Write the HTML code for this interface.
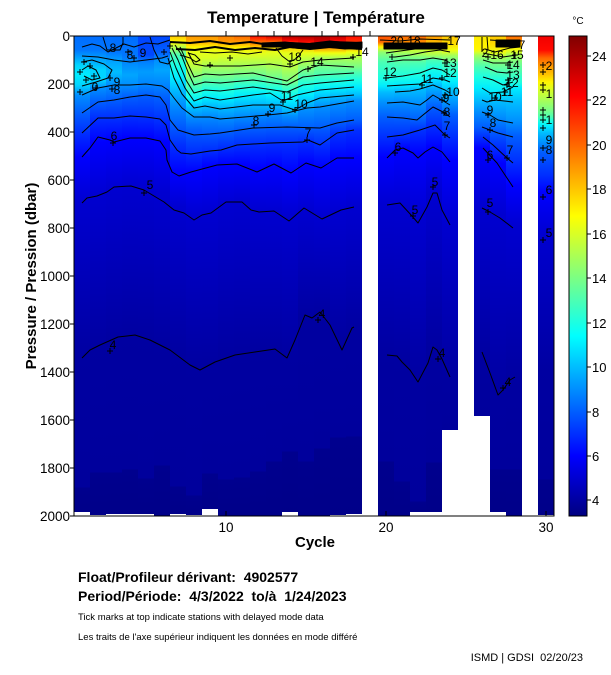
<!DOCTYPE html>
<html><head><meta charset="utf-8"><style>
html,body{margin:0;padding:0;background:#fff;}
body{width:611px;height:675px;overflow:hidden;}
svg{display:block;font-family:"Liberation Sans",Arial,sans-serif;}
</style></head><body>
<svg width="611" height="675" viewBox="0 0 611 675" xmlns="http://www.w3.org/2000/svg">
<defs>
<clipPath id="pc"><rect x="74" y="36" width="480" height="480"/></clipPath>
<linearGradient id="cb" x1="0" y1="1" x2="0" y2="0"><stop offset="0" stop-color="#000080"/><stop offset=".125" stop-color="#0000ff"/><stop offset=".375" stop-color="#00ffff"/><stop offset=".625" stop-color="#ffff00"/><stop offset=".875" stop-color="#ff0000"/><stop offset="1" stop-color="#800000"/></linearGradient>
<linearGradient id="g1" gradientUnits="userSpaceOnUse" x1="0" y1="0" x2="0" y2="1000"><stop offset=".036" stop-color="#006dff"/><stop offset=".050" stop-color="#0076ff"/><stop offset=".058" stop-color="#00a5ff"/><stop offset=".065" stop-color="#00d4ff"/><stop offset=".075" stop-color="#00ecff"/><stop offset=".085" stop-color="#00d4ff"/><stop offset=".095" stop-color="#008eff"/><stop offset=".113" stop-color="#005eff"/><stop offset=".133" stop-color="#002fff"/><stop offset=".157" stop-color="#0000ff"/><stop offset=".202" stop-color="#0000d0"/><stop offset=".280" stop-color="#0000b8"/><stop offset=".358" stop-color="#0000a1"/><stop offset=".487" stop-color="#00009c"/><stop offset=".488" stop-color="#00008e"/><stop offset=".512" stop-color="#000089"/></linearGradient>
<linearGradient id="g2" gradientUnits="userSpaceOnUse" x1="0" y1="0" x2="0" y2="1000"><stop offset=".036" stop-color="#006dff"/><stop offset=".050" stop-color="#0076ff"/><stop offset=".060" stop-color="#00a5ff"/><stop offset=".070" stop-color="#00d4ff"/><stop offset=".080" stop-color="#00d4ff"/><stop offset=".088" stop-color="#008eff"/><stop offset=".102" stop-color="#005eff"/><stop offset=".118" stop-color="#002fff"/><stop offset=".142" stop-color="#0000ff"/><stop offset=".196" stop-color="#0000d0"/><stop offset=".272" stop-color="#0000b8"/><stop offset=".348" stop-color="#0000a1"/><stop offset=".472" stop-color="#00009c"/><stop offset=".473" stop-color="#00008e"/><stop offset=".515" stop-color="#000089"/></linearGradient>
<linearGradient id="g3" gradientUnits="userSpaceOnUse" x1="0" y1="0" x2="0" y2="1000"><stop offset=".036" stop-color="#006dff"/><stop offset=".052" stop-color="#0076ff"/><stop offset=".062" stop-color="#00a5ff"/><stop offset=".072" stop-color="#00bdff"/><stop offset=".085" stop-color="#008eff"/><stop offset=".100" stop-color="#005eff"/><stop offset=".118" stop-color="#002fff"/><stop offset=".140" stop-color="#0000ff"/><stop offset=".190" stop-color="#0000d0"/><stop offset=".265" stop-color="#0000b8"/><stop offset=".340" stop-color="#0000a1"/><stop offset=".472" stop-color="#00009c"/><stop offset=".473" stop-color="#00008e"/><stop offset=".514" stop-color="#000089"/></linearGradient>
<linearGradient id="g4" gradientUnits="userSpaceOnUse" x1="0" y1="0" x2="0" y2="1000"><stop offset=".036" stop-color="#006dff"/><stop offset=".055" stop-color="#0076ff"/><stop offset=".065" stop-color="#008eff"/><stop offset=".075" stop-color="#00a5ff"/><stop offset=".085" stop-color="#008eff"/><stop offset=".097" stop-color="#005eff"/><stop offset=".116" stop-color="#002fff"/><stop offset=".138" stop-color="#0000ff"/><stop offset=".186" stop-color="#0000d0"/><stop offset=".261" stop-color="#0000b8"/><stop offset=".336" stop-color="#0000a1"/><stop offset=".469" stop-color="#00009c"/><stop offset=".470" stop-color="#00008e"/><stop offset=".514" stop-color="#000089"/></linearGradient>
<linearGradient id="g5" gradientUnits="userSpaceOnUse" x1="0" y1="0" x2="0" y2="1000"><stop offset=".036" stop-color="#0047ff"/><stop offset=".055" stop-color="#0047ff"/><stop offset=".062" stop-color="#0080ff"/><stop offset=".072" stop-color="#009cff"/><stop offset=".085" stop-color="#0084ff"/><stop offset=".095" stop-color="#005eff"/><stop offset=".117" stop-color="#002fff"/><stop offset=".138" stop-color="#0000ff"/><stop offset=".187" stop-color="#0000d0"/><stop offset=".262" stop-color="#0000b8"/><stop offset=".338" stop-color="#0000a1"/><stop offset=".478" stop-color="#00009c"/><stop offset=".479" stop-color="#00008e"/><stop offset=".514" stop-color="#000089"/></linearGradient>
<linearGradient id="g6" gradientUnits="userSpaceOnUse" x1="0" y1="0" x2="0" y2="1000"><stop offset=".036" stop-color="#0047ff"/><stop offset=".052" stop-color="#005eff"/><stop offset=".060" stop-color="#008eff"/><stop offset=".070" stop-color="#00a5ff"/><stop offset=".085" stop-color="#0084ff"/><stop offset=".098" stop-color="#005eff"/><stop offset=".120" stop-color="#002fff"/><stop offset=".142" stop-color="#0000ff"/><stop offset=".193" stop-color="#0000d0"/><stop offset=".269" stop-color="#0000b8"/><stop offset=".345" stop-color="#0000a1"/><stop offset=".465" stop-color="#00009c"/><stop offset=".466" stop-color="#00008e"/><stop offset=".516" stop-color="#000089"/></linearGradient>
<linearGradient id="g7" gradientUnits="userSpaceOnUse" x1="0" y1="0" x2="0" y2="1000"><stop offset=".036" stop-color="#ffc700"/><stop offset=".042" stop-color="#fff500"/><stop offset=".048" stop-color="#aaff55"/><stop offset=".055" stop-color="#4bffb4"/><stop offset=".065" stop-color="#1cffe3"/><stop offset=".078" stop-color="#00ecff"/><stop offset=".090" stop-color="#00bdff"/><stop offset=".105" stop-color="#008eff"/><stop offset=".125" stop-color="#005eff"/><stop offset=".145" stop-color="#002fff"/><stop offset=".172" stop-color="#0000ff"/><stop offset=".207" stop-color="#0000d0"/><stop offset=".281" stop-color="#0000b8"/><stop offset=".355" stop-color="#0000a1"/><stop offset=".486" stop-color="#00009c"/><stop offset=".487" stop-color="#00008e"/><stop offset=".514" stop-color="#000089"/></linearGradient>
<linearGradient id="g8" gradientUnits="userSpaceOnUse" x1="0" y1="0" x2="0" y2="1000"><stop offset=".036" stop-color="#ff9700"/><stop offset=".042" stop-color="#ffaf00"/><stop offset=".047" stop-color="#fff500"/><stop offset=".052" stop-color="#e7ff18"/><stop offset=".060" stop-color="#d9ff26"/><stop offset=".070" stop-color="#aaff55"/><stop offset=".078" stop-color="#7bff85"/><stop offset=".086" stop-color="#4bffb4"/><stop offset=".094" stop-color="#1cffe3"/><stop offset=".101" stop-color="#00ecff"/><stop offset=".108" stop-color="#00bdff"/><stop offset=".117" stop-color="#008eff"/><stop offset=".130" stop-color="#005eff"/><stop offset=".152" stop-color="#002fff"/><stop offset=".172" stop-color="#0000ff"/><stop offset=".215" stop-color="#0000d0"/><stop offset=".290" stop-color="#0000b8"/><stop offset=".366" stop-color="#0000a1"/><stop offset=".495" stop-color="#00009c"/><stop offset=".496" stop-color="#00008e"/><stop offset=".515" stop-color="#000089"/></linearGradient>
<linearGradient id="g9" gradientUnits="userSpaceOnUse" x1="0" y1="0" x2="0" y2="1000"><stop offset=".036" stop-color="#ff9700"/><stop offset=".042" stop-color="#ffaf00"/><stop offset=".047" stop-color="#fff500"/><stop offset=".052" stop-color="#e7ff18"/><stop offset=".058" stop-color="#d9ff26"/><stop offset=".066" stop-color="#aaff55"/><stop offset=".075" stop-color="#7bff85"/><stop offset=".083" stop-color="#4bffb4"/><stop offset=".090" stop-color="#1cffe3"/><stop offset=".098" stop-color="#00ecff"/><stop offset=".106" stop-color="#00bdff"/><stop offset=".116" stop-color="#008eff"/><stop offset=".132" stop-color="#005eff"/><stop offset=".150" stop-color="#002fff"/><stop offset=".166" stop-color="#0000ff"/><stop offset=".214" stop-color="#0000d0"/><stop offset=".289" stop-color="#0000b8"/><stop offset=".364" stop-color="#0000a1"/><stop offset=".473" stop-color="#00009c"/><stop offset=".474" stop-color="#00008e"/><stop offset=".509" stop-color="#000089"/></linearGradient>
<linearGradient id="g10" gradientUnits="userSpaceOnUse" x1="0" y1="0" x2="0" y2="1000"><stop offset=".036" stop-color="#ff8000"/><stop offset=".042" stop-color="#ff9700"/><stop offset=".048" stop-color="#fff500"/><stop offset=".053" stop-color="#e7ff18"/><stop offset=".066" stop-color="#aaff55"/><stop offset=".075" stop-color="#7bff85"/><stop offset=".083" stop-color="#4bffb4"/><stop offset=".091" stop-color="#1cffe3"/><stop offset=".099" stop-color="#00ecff"/><stop offset=".107" stop-color="#00bdff"/><stop offset=".118" stop-color="#008eff"/><stop offset=".132" stop-color="#005eff"/><stop offset=".147" stop-color="#002fff"/><stop offset=".164" stop-color="#0000ff"/><stop offset=".205" stop-color="#0000d0"/><stop offset=".280" stop-color="#0000b8"/><stop offset=".355" stop-color="#0000a1"/><stop offset=".479" stop-color="#00009c"/><stop offset=".480" stop-color="#00008e"/><stop offset=".516" stop-color="#000089"/></linearGradient>
<linearGradient id="g11" gradientUnits="userSpaceOnUse" x1="0" y1="0" x2="0" y2="1000"><stop offset=".036" stop-color="#ff6800"/><stop offset=".042" stop-color="#ff9700"/><stop offset=".048" stop-color="#fff500"/><stop offset=".053" stop-color="#e7ff18"/><stop offset=".065" stop-color="#aaff55"/><stop offset=".074" stop-color="#7bff85"/><stop offset=".081" stop-color="#4bffb4"/><stop offset=".088" stop-color="#1cffe3"/><stop offset=".096" stop-color="#00ecff"/><stop offset=".105" stop-color="#00bdff"/><stop offset=".116" stop-color="#008eff"/><stop offset=".129" stop-color="#005eff"/><stop offset=".145" stop-color="#002fff"/><stop offset=".164" stop-color="#0000ff"/><stop offset=".202" stop-color="#0000d0"/><stop offset=".277" stop-color="#0000b8"/><stop offset=".352" stop-color="#0000a1"/><stop offset=".477" stop-color="#00009c"/><stop offset=".478" stop-color="#00008e"/><stop offset=".516" stop-color="#000089"/></linearGradient>
<linearGradient id="g12" gradientUnits="userSpaceOnUse" x1="0" y1="0" x2="0" y2="1000"><stop offset=".036" stop-color="#ff0900"/><stop offset=".042" stop-color="#ff6800"/><stop offset=".048" stop-color="#ffde00"/><stop offset=".053" stop-color="#e7ff18"/><stop offset=".064" stop-color="#aaff55"/><stop offset=".073" stop-color="#7bff85"/><stop offset=".080" stop-color="#4bffb4"/><stop offset=".087" stop-color="#1cffe3"/><stop offset=".094" stop-color="#00ecff"/><stop offset=".104" stop-color="#00bdff"/><stop offset=".114" stop-color="#008eff"/><stop offset=".128" stop-color="#005eff"/><stop offset=".144" stop-color="#002fff"/><stop offset=".168" stop-color="#0000ff"/><stop offset=".210" stop-color="#0000d0"/><stop offset=".280" stop-color="#0000b8"/><stop offset=".350" stop-color="#0000a1"/><stop offset=".471" stop-color="#00009c"/><stop offset=".472" stop-color="#00008e"/><stop offset=".516" stop-color="#000089"/></linearGradient>
<linearGradient id="g13" gradientUnits="userSpaceOnUse" x1="0" y1="0" x2="0" y2="1000"><stop offset=".036" stop-color="#d90000"/><stop offset=".040" stop-color="#ff3900"/><stop offset=".046" stop-color="#ffc700"/><stop offset=".052" stop-color="#e7ff18"/><stop offset=".066" stop-color="#aaff55"/><stop offset=".076" stop-color="#7bff85"/><stop offset=".082" stop-color="#4bffb4"/><stop offset=".089" stop-color="#1cffe3"/><stop offset=".096" stop-color="#00ecff"/><stop offset=".105" stop-color="#00bdff"/><stop offset=".113" stop-color="#008eff"/><stop offset=".127" stop-color="#005eff"/><stop offset=".143" stop-color="#002fff"/><stop offset=".166" stop-color="#0000ff"/><stop offset=".211" stop-color="#0000d0"/><stop offset=".280" stop-color="#0000b8"/><stop offset=".350" stop-color="#0000a1"/><stop offset=".461" stop-color="#00009c"/><stop offset=".462" stop-color="#00008e"/><stop offset=".516" stop-color="#000089"/></linearGradient>
<linearGradient id="g14" gradientUnits="userSpaceOnUse" x1="0" y1="0" x2="0" y2="1000"><stop offset=".036" stop-color="#aa0000"/><stop offset=".041" stop-color="#ff0900"/><stop offset=".047" stop-color="#ffc700"/><stop offset=".053" stop-color="#e7ff18"/><stop offset=".070" stop-color="#aaff55"/><stop offset=".081" stop-color="#7bff85"/><stop offset=".086" stop-color="#4bffb4"/><stop offset=".093" stop-color="#1cffe3"/><stop offset=".101" stop-color="#00ecff"/><stop offset=".110" stop-color="#00bdff"/><stop offset=".116" stop-color="#008eff"/><stop offset=".127" stop-color="#005eff"/><stop offset=".143" stop-color="#002fff"/><stop offset=".172" stop-color="#0000ff"/><stop offset=".215" stop-color="#0000d0"/><stop offset=".285" stop-color="#0000b8"/><stop offset=".356" stop-color="#0000a1"/><stop offset=".451" stop-color="#00009c"/><stop offset=".452" stop-color="#00008e"/><stop offset=".512" stop-color="#000089"/></linearGradient>
<linearGradient id="g15" gradientUnits="userSpaceOnUse" x1="0" y1="0" x2="0" y2="1000"><stop offset=".036" stop-color="#aa0000"/><stop offset=".042" stop-color="#ff0900"/><stop offset=".048" stop-color="#ffc700"/><stop offset=".053" stop-color="#e7ff18"/><stop offset=".062" stop-color="#aaff55"/><stop offset=".070" stop-color="#7bff85"/><stop offset=".077" stop-color="#4bffb4"/><stop offset=".085" stop-color="#1cffe3"/><stop offset=".095" stop-color="#00ecff"/><stop offset=".103" stop-color="#00bdff"/><stop offset=".110" stop-color="#008eff"/><stop offset=".128" stop-color="#005eff"/><stop offset=".141" stop-color="#002fff"/><stop offset=".164" stop-color="#0000ff"/><stop offset=".211" stop-color="#0000d0"/><stop offset=".265" stop-color="#0000b8"/><stop offset=".318" stop-color="#0000a1"/><stop offset=".461" stop-color="#00009c"/><stop offset=".462" stop-color="#00008e"/><stop offset=".516" stop-color="#000089"/></linearGradient>
<linearGradient id="g16" gradientUnits="userSpaceOnUse" x1="0" y1="0" x2="0" y2="1000"><stop offset=".036" stop-color="#aa0000"/><stop offset=".042" stop-color="#d90000"/><stop offset=".048" stop-color="#ff9700"/><stop offset=".053" stop-color="#f1ff0e"/><stop offset=".058" stop-color="#aaff55"/><stop offset=".065" stop-color="#7bff85"/><stop offset=".075" stop-color="#4bffb4"/><stop offset=".083" stop-color="#1cffe3"/><stop offset=".090" stop-color="#00ecff"/><stop offset=".098" stop-color="#00bdff"/><stop offset=".107" stop-color="#008eff"/><stop offset=".127" stop-color="#005eff"/><stop offset=".145" stop-color="#002fff"/><stop offset=".167" stop-color="#0000ff"/><stop offset=".217" stop-color="#0000d0"/><stop offset=".266" stop-color="#0000b8"/><stop offset=".315" stop-color="#0000a1"/><stop offset=".448" stop-color="#00009c"/><stop offset=".449" stop-color="#00008e"/><stop offset=".516" stop-color="#000089"/></linearGradient>
<linearGradient id="g17" gradientUnits="userSpaceOnUse" x1="0" y1="0" x2="0" y2="1000"><stop offset=".036" stop-color="#c20000"/><stop offset=".042" stop-color="#ff0900"/><stop offset=".048" stop-color="#ff9700"/><stop offset=".053" stop-color="#f1ff0e"/><stop offset=".058" stop-color="#aaff55"/><stop offset=".066" stop-color="#7bff85"/><stop offset=".074" stop-color="#4bffb4"/><stop offset=".081" stop-color="#1cffe3"/><stop offset=".088" stop-color="#00ecff"/><stop offset=".096" stop-color="#00bdff"/><stop offset=".104" stop-color="#008eff"/><stop offset=".122" stop-color="#005eff"/><stop offset=".134" stop-color="#002fff"/><stop offset=".159" stop-color="#0000ff"/><stop offset=".212" stop-color="#0000d0"/><stop offset=".275" stop-color="#0000b8"/><stop offset=".338" stop-color="#0000a1"/><stop offset=".437" stop-color="#00009c"/><stop offset=".438" stop-color="#00008e"/><stop offset=".515" stop-color="#000089"/></linearGradient>
<linearGradient id="g18" gradientUnits="userSpaceOnUse" x1="0" y1="0" x2="0" y2="1000"><stop offset=".036" stop-color="#ff0900"/><stop offset=".043" stop-color="#ff3900"/><stop offset=".047" stop-color="#ff9700"/><stop offset=".052" stop-color="#f1ff0e"/><stop offset=".058" stop-color="#aaff55"/><stop offset=".067" stop-color="#7bff85"/><stop offset=".073" stop-color="#4bffb4"/><stop offset=".080" stop-color="#1cffe3"/><stop offset=".087" stop-color="#00ecff"/><stop offset=".095" stop-color="#00bdff"/><stop offset=".101" stop-color="#008eff"/><stop offset=".120" stop-color="#005eff"/><stop offset=".130" stop-color="#002fff"/><stop offset=".158" stop-color="#0000ff"/><stop offset=".207" stop-color="#0000d0"/><stop offset=".268" stop-color="#0000b8"/><stop offset=".330" stop-color="#0000a1"/><stop offset=".436" stop-color="#00009c"/><stop offset=".437" stop-color="#00008e"/><stop offset=".514" stop-color="#000089"/></linearGradient>
<linearGradient id="g20" gradientUnits="userSpaceOnUse" x1="0" y1="0" x2="0" y2="1000"><stop offset=".036" stop-color="#ff5000"/><stop offset=".042" stop-color="#ff6800"/><stop offset=".047" stop-color="#fff500"/><stop offset=".052" stop-color="#92ff6d"/><stop offset=".055" stop-color="#7bff85"/><stop offset=".062" stop-color="#4bffb4"/><stop offset=".078" stop-color="#1cffe3"/><stop offset=".086" stop-color="#00ecff"/><stop offset=".092" stop-color="#00bdff"/><stop offset=".103" stop-color="#008eff"/><stop offset=".117" stop-color="#005eff"/><stop offset=".137" stop-color="#002fff"/><stop offset=".157" stop-color="#0000ff"/><stop offset=".205" stop-color="#0000d0"/><stop offset=".280" stop-color="#0000b8"/><stop offset=".355" stop-color="#0000a1"/><stop offset=".461" stop-color="#00009c"/><stop offset=".462" stop-color="#00008e"/><stop offset=".516" stop-color="#000089"/></linearGradient>
<linearGradient id="g21" gradientUnits="userSpaceOnUse" x1="0" y1="0" x2="0" y2="1000"><stop offset=".036" stop-color="#ff6800"/><stop offset=".044" stop-color="#ff9700"/><stop offset=".048" stop-color="#d9ff26"/><stop offset=".052" stop-color="#aaff55"/><stop offset=".057" stop-color="#7bff85"/><stop offset=".064" stop-color="#4bffb4"/><stop offset=".077" stop-color="#1cffe3"/><stop offset=".085" stop-color="#00ecff"/><stop offset=".091" stop-color="#00bdff"/><stop offset=".102" stop-color="#008eff"/><stop offset=".118" stop-color="#005eff"/><stop offset=".136" stop-color="#002fff"/><stop offset=".149" stop-color="#0000ff"/><stop offset=".206" stop-color="#0000d0"/><stop offset=".283" stop-color="#0000b8"/><stop offset=".360" stop-color="#0000a1"/><stop offset=".481" stop-color="#00009c"/><stop offset=".482" stop-color="#00008e"/><stop offset=".516" stop-color="#000089"/></linearGradient>
<linearGradient id="g22" gradientUnits="userSpaceOnUse" x1="0" y1="0" x2="0" y2="1000"><stop offset=".036" stop-color="#ff6800"/><stop offset=".044" stop-color="#ff9700"/><stop offset=".048" stop-color="#d9ff26"/><stop offset=".054" stop-color="#aaff55"/><stop offset=".058" stop-color="#7bff85"/><stop offset=".063" stop-color="#4bffb4"/><stop offset=".074" stop-color="#1cffe3"/><stop offset=".084" stop-color="#00ecff"/><stop offset=".089" stop-color="#00bdff"/><stop offset=".104" stop-color="#008eff"/><stop offset=".120" stop-color="#005eff"/><stop offset=".131" stop-color="#002fff"/><stop offset=".153" stop-color="#0000ff"/><stop offset=".218" stop-color="#0000d0"/><stop offset=".299" stop-color="#0000b8"/><stop offset=".380" stop-color="#0000a1"/><stop offset=".501" stop-color="#00009c"/><stop offset=".502" stop-color="#00008e"/><stop offset=".512" stop-color="#000089"/></linearGradient>
<linearGradient id="g23" gradientUnits="userSpaceOnUse" x1="0" y1="0" x2="0" y2="1000"><stop offset=".036" stop-color="#ff9700"/><stop offset=".044" stop-color="#ffc700"/><stop offset=".050" stop-color="#d9ff26"/><stop offset=".055" stop-color="#aaff55"/><stop offset=".058" stop-color="#7bff85"/><stop offset=".060" stop-color="#4bffb4"/><stop offset=".068" stop-color="#1cffe3"/><stop offset=".078" stop-color="#00ecff"/><stop offset=".085" stop-color="#00bdff"/><stop offset=".095" stop-color="#008eff"/><stop offset=".107" stop-color="#005eff"/><stop offset=".125" stop-color="#002fff"/><stop offset=".147" stop-color="#0000ff"/><stop offset=".195" stop-color="#0000d0"/><stop offset=".272" stop-color="#0000b8"/><stop offset=".348" stop-color="#0000a1"/><stop offset=".462" stop-color="#00009c"/><stop offset=".463" stop-color="#00008e"/><stop offset=".512" stop-color="#000089"/></linearGradient>
<linearGradient id="g24" gradientUnits="userSpaceOnUse" x1="0" y1="0" x2="0" y2="1000"><stop offset=".036" stop-color="#ffc700"/><stop offset=".044" stop-color="#ffde00"/><stop offset=".050" stop-color="#f1ff0e"/><stop offset=".052" stop-color="#d9ff26"/><stop offset=".055" stop-color="#aaff55"/><stop offset=".060" stop-color="#7bff85"/><stop offset=".063" stop-color="#4bffb4"/><stop offset=".074" stop-color="#1cffe3"/><stop offset=".082" stop-color="#00ecff"/><stop offset=".092" stop-color="#00bdff"/><stop offset=".104" stop-color="#008eff"/><stop offset=".115" stop-color="#005eff"/><stop offset=".136" stop-color="#002fff"/><stop offset=".160" stop-color="#0000ff"/><stop offset=".222" stop-color="#0000d0"/><stop offset=".299" stop-color="#0000b8"/><stop offset=".375" stop-color="#0000a1"/><stop offset=".430" stop-color="#00009c"/></linearGradient>
<linearGradient id="g26" gradientUnits="userSpaceOnUse" x1="0" y1="0" x2="0" y2="1000"><stop offset=".036" stop-color="#ffec00"/><stop offset=".049" stop-color="#fff500"/><stop offset=".052" stop-color="#d9ff26"/><stop offset=".055" stop-color="#aaff55"/><stop offset=".060" stop-color="#7bff85"/><stop offset=".067" stop-color="#4bffb4"/><stop offset=".077" stop-color="#1cffe3"/><stop offset=".088" stop-color="#00ecff"/><stop offset=".100" stop-color="#00bdff"/><stop offset=".112" stop-color="#008eff"/><stop offset=".127" stop-color="#005eff"/><stop offset=".137" stop-color="#002fff"/><stop offset=".148" stop-color="#0000ff"/><stop offset=".208" stop-color="#0000d0"/><stop offset=".282" stop-color="#0000b8"/><stop offset=".355" stop-color="#0000a1"/><stop offset=".416" stop-color="#00009c"/></linearGradient>
<linearGradient id="g27" gradientUnits="userSpaceOnUse" x1="0" y1="0" x2="0" y2="1000"><stop offset=".036" stop-color="#ffc700"/><stop offset=".045" stop-color="#ffde00"/><stop offset=".052" stop-color="#f1ff0e"/><stop offset=".057" stop-color="#aaff55"/><stop offset=".063" stop-color="#7bff85"/><stop offset=".072" stop-color="#4bffb4"/><stop offset=".080" stop-color="#1cffe3"/><stop offset=".093" stop-color="#00ecff"/><stop offset=".101" stop-color="#00bdff"/><stop offset=".117" stop-color="#008eff"/><stop offset=".131" stop-color="#005eff"/><stop offset=".147" stop-color="#002fff"/><stop offset=".163" stop-color="#0000ff"/><stop offset=".215" stop-color="#0000d0"/><stop offset=".303" stop-color="#0000b8"/><stop offset=".392" stop-color="#0000a1"/><stop offset=".469" stop-color="#00009c"/><stop offset=".470" stop-color="#00008e"/><stop offset=".512" stop-color="#000089"/></linearGradient>
<linearGradient id="g28" gradientUnits="userSpaceOnUse" x1="0" y1="0" x2="0" y2="1000"><stop offset=".036" stop-color="#ff6800"/><stop offset=".042" stop-color="#ff9700"/><stop offset=".048" stop-color="#fff500"/><stop offset=".052" stop-color="#d9ff26"/><stop offset=".055" stop-color="#aaff55"/><stop offset=".062" stop-color="#7bff85"/><stop offset=".072" stop-color="#4bffb4"/><stop offset=".083" stop-color="#1cffe3"/><stop offset=".088" stop-color="#00ecff"/><stop offset=".102" stop-color="#00bdff"/><stop offset=".122" stop-color="#008eff"/><stop offset=".136" stop-color="#005eff"/><stop offset=".162" stop-color="#002fff"/><stop offset=".185" stop-color="#0000ff"/><stop offset=".226" stop-color="#0000d0"/><stop offset=".302" stop-color="#0000b8"/><stop offset=".378" stop-color="#0000a1"/><stop offset=".469" stop-color="#00009c"/><stop offset=".470" stop-color="#00008e"/><stop offset=".516" stop-color="#000089"/></linearGradient>
<linearGradient id="g30" gradientUnits="userSpaceOnUse" x1="0" y1="0" x2="0" y2="1000"><stop offset=".036" stop-color="#f10000"/><stop offset=".050" stop-color="#ff0900"/><stop offset=".058" stop-color="#ff6800"/><stop offset=".066" stop-color="#ff9700"/><stop offset=".075" stop-color="#ffc700"/><stop offset=".082" stop-color="#fff500"/><stop offset=".090" stop-color="#d9ff26"/><stop offset=".100" stop-color="#aaff55"/><stop offset=".110" stop-color="#7bff85"/><stop offset=".117" stop-color="#4bffb4"/><stop offset=".121" stop-color="#1cffe3"/><stop offset=".126" stop-color="#00ecff"/><stop offset=".133" stop-color="#00bdff"/><stop offset=".143" stop-color="#008eff"/><stop offset=".152" stop-color="#005eff"/><stop offset=".175" stop-color="#002fff"/><stop offset=".192" stop-color="#0000ff"/><stop offset=".235" stop-color="#0000d0"/><stop offset=".300" stop-color="#0000b8"/><stop offset=".370" stop-color="#0000a1"/><stop offset=".479" stop-color="#00009c"/><stop offset=".480" stop-color="#00008e"/><stop offset=".515" stop-color="#000089"/></linearGradient>
</defs>

<rect width="611" height="675" fill="#fff"/>

<!-- Title -->
<text x="316" y="23" text-anchor="middle" font-size="17" font-weight="bold">Temperature | Température</text>
<text x="578" y="24" text-anchor="middle" font-size="10">°C</text>

<!-- Heatmap columns -->
<g shape-rendering="crispEdges">
<rect x="74" y="36" width="16" height="476" fill="url(#g1)"/>
<rect x="90" y="36" width="16" height="479" fill="url(#g2)"/>
<rect x="106" y="36" width="16" height="478" fill="url(#g3)"/>
<rect x="122" y="36" width="16" height="478" fill="url(#g4)"/>
<rect x="138" y="36" width="16" height="478" fill="url(#g5)"/>
<rect x="154" y="36" width="16" height="480" fill="url(#g6)"/>
<rect x="170" y="36" width="16" height="478" fill="url(#g7)"/>
<rect x="186" y="36" width="16" height="479" fill="url(#g8)"/>
<rect x="202" y="36" width="16" height="473" fill="url(#g9)"/>
<rect x="218" y="36" width="16" height="480" fill="url(#g10)"/>
<rect x="234" y="36" width="16" height="480" fill="url(#g11)"/>
<rect x="250" y="36" width="16" height="480" fill="url(#g12)"/>
<rect x="266" y="36" width="16" height="480" fill="url(#g13)"/>
<rect x="282" y="36" width="16" height="476" fill="url(#g14)"/>
<rect x="298" y="36" width="16" height="480" fill="url(#g15)"/>
<rect x="314" y="36" width="16" height="480" fill="url(#g16)"/>
<rect x="330" y="36" width="16" height="479" fill="url(#g17)"/>
<rect x="346" y="36" width="16" height="478" fill="url(#g18)"/>
<rect x="378" y="36" width="16" height="480" fill="url(#g20)"/>
<rect x="394" y="36" width="16" height="480" fill="url(#g21)"/>
<rect x="410" y="36" width="16" height="476" fill="url(#g22)"/>
<rect x="426" y="36" width="16" height="476" fill="url(#g23)"/>
<rect x="442" y="36" width="16" height="394" fill="url(#g24)"/>
<rect x="474" y="36" width="16" height="380" fill="url(#g26)"/>
<rect x="490" y="36" width="16" height="476" fill="url(#g27)"/>
<rect x="506" y="36" width="16" height="480" fill="url(#g28)"/>
<rect x="538" y="36" width="16" height="479" fill="url(#g30)"/>
</g>

<!-- Contours -->
<g clip-path="url(#pc)" fill="none" stroke="#000" stroke-width="1" stroke-linejoin="round">
<polyline points="82,358 90,350 100,345 118,337 135,335 150,340 170,350 190,365 200,370 215,362 235,355 255,352 275,349 287,358 295,340 305,315 312,318 320,312 330,325 342,350 352,328 354,327"/>
<polyline points="82,203 87,198 97,196 107,192 114,187 131,186 144,190 154,196 164,202 174,210 184,213 194,220 202,215 211,213 226,202 242,202 251,210 259,212 274,211 289,221 304,208 322,219 341,210 354,207"/>
<polyline points="82,157 90,148 98,137 110,140 114,142 130,138 146,138 160,141 166,150 167,160 172,172 179,176 191,172 217,165 237,164 257,172 274,164 291,173 306,163 321,168 337,158 354,158"/>
<polyline points="82,133 98,118 114,118 130,116 146,117 160,119 166,125 170,140 177,150 181,153 191,154 210,151 221,150 237,145 270,143 303,142 308,140 320,145 337,133 354,130"/>
<polyline points="82,113 98,102 114,100 130,97 146,95 160,97 166,105 170,120 178,130 194,135 210,134 220,133 253,128 287,127 320,128 337,123 354,120"/>
<polyline points="82,95 98,88 114,85 130,85 146,84 162,86 168,90 174,98 182,108 194,117 210,117 220,119 268,115 287,113 307,108 320,107 354,101"/>
<polyline points="82,56 98,57 114,60 130,62 146,60 162,58 168,56"/>
<polyline points="82,62 92,60 104,64 112,70 108,78 96,82 82,86"/>
<polyline points="168,58 174,78 182,94 194,108 205,106 220,109 253,105 280,105 295,110 307,103 320,98 354,95"/>
<polyline points="170,52 176,68 185,88 194,101 205,97 220,100 253,95 270,93 283,101 297,95 320,90 354,87"/>
<polyline points="172,48 178,60 186,80 194,93 205,90 220,91 253,87 287,92 303,85 320,83 354,80"/>
<polyline points="175,45 181,54 188,72 194,85 205,82 220,83 253,80 287,85 303,77 320,75 354,73"/>
<polyline points="180,47 186,60 194,77 205,74 220,75 253,73 287,81 303,70 320,65 354,67"/>
<polyline points="188,52 194,64 205,66 240,66 270,64 290,67 303,62 320,60 354,58"/>
<polyline points="82,47 92,44 100,46 108,52 116,48 124,44 134,47 146,43 158,44 170,40"/>
<polyline points="103,37 107,50 120,50 123,43 123,37"/>
<polyline points="150,37 154,50 160,62 168,64 172,60"/>
<polyline points="82,70 88,66 96,70 100,78 92,80 84,76"/>
<polyline points="180,55 190,58 196,62 200,60 195,55 188,53"/>
<polyline points="276,48 282,56 290,62 297,58 303,50"/>
<polyline points="200,52 215,53 232,52 248,54 262,52"/>
<polyline stroke-width="2" points="170,42 190,43 210,41 230,44 250,42 270,45 290,43 310,44 330,42 362,43"/>
<polyline stroke-width="2" points="176,49 195,50 215,47 235,50 255,48 275,50 290,47 310,49 330,47 362,49"/>
<polygon fill="#000" points="262,43 285,42 305,44 330,41 350,43 362,42 362,48 345,49 325,47 305,49 285,47 262,47"/>

<polyline points="387,355 397,356 402,362 410,370 418,382 428,363 433,347 437,350 442,359 450,377"/>
<polyline points="387,205 400,203 412,216 418,223 427,207 433,193 437,193 442,210 450,225"/>
<polyline points="387,158 395,150 403,148 413,153 418,158 425,152 433,147 442,152 450,162"/>
<polyline points="387,137 403,135 420,130 435,125 445,135 450,138"/>
<polyline points="387,117 403,118 417,120 423,115 433,107 445,113 450,117"/>
<polyline points="387,103 403,102 420,105 427,100 433,95 445,102 450,105"/>
<polyline points="395,92 410,91 420,89 433,85 445,90 450,93"/>
<polyline points="387,86 403,85 420,84 433,78 445,80 450,82"/>
<polyline points="386,78 403,76 420,73 433,68 442,70 450,75"/>
<polyline points="387,62 403,60 420,60 433,58 445,60 450,63"/>
<polyline points="395,57 410,55 425,52 440,50 450,52"/>
<polyline points="380,40 400,41 420,39 450,40"/>
<polyline points="386,53 400,51 415,49"/>
<polygon fill="#000" points="384,43 447,43 447,49 384,49"/>

<polyline points="482,352 490,373 498,395 503,390 510,380 515,377"/>
<polyline points="482,208 490,212 500,218 513,228"/>
<polyline points="483,148 497,163 513,187"/>
<polyline points="483,137 493,145 507,158 513,163"/>
<polyline points="482,127 490,130 498,133 513,137"/>
<polyline points="482,112 490,115 498,120 513,123"/>
<polyline points="482,100 487,102 495,100 513,102"/>
<polyline points="482,88 490,93 503,92 513,87"/>
<polyline points="483,77 493,80 503,85 513,82"/>
<polyline points="485,67 497,72 507,73 513,72"/>
<polyline points="483,60 493,63 507,63 513,62"/>
<polyline points="483,53 503,57 517,55"/>
<polyline points="485,49 495,52 510,48 520,47"/>
<polyline points="482,37 482,52"/>
<polyline points="487,37 488,50"/>
<polyline points="490,40 520,42"/>
<polygon fill="#000" points="496,40 520,40 520,47 496,47"/>
</g>

<!-- plus markers -->
<path clip-path="url(#pc)" fill="none" stroke="#000" stroke-width="1" d="
M110,143h6M113,140v6 M141,193h6M144,190v6 M107,351h6M110,348v6 M315,320h6M318,317v6
M287,64h6M290,61v6 M305,69h6M308,66v6 M280,102h6M283,99v6 M292,110h6M295,107v6
M265,114h6M268,111v6 M251,125h6M254,122v6 M304,140h6M307,137v6 M350,57h6M353,54v6
M81,62h6M84,59v6 M87,66h6M90,63v6 M77,72h6M80,69v6 M83,80h6M86,77v6 M91,76h6M94,73v6
M107,78h6M110,75v6 M109,89h6M112,86v6 M93,88h6M96,85v6 M77,92h6M80,89v6 M131,58h6M134,55v6
M125,52h6M128,49v6 M161,52h6M164,49v6 M167,46h6M170,43v6 M207,65h6M210,62v6 M227,58h6M230,55v6
M383,78h6M386,75v6 M419,85h6M422,82v6 M442,63h6M445,60v6 M439,78h6M442,75v6 M442,95h6M445,92v6
M439,100h6M442,97v6 M441,113h6M444,110v6 M442,135h6M445,132v6 M392,153h6M395,150v6
M430,187h6M433,184v6 M410,216h6M413,213v6 M435,359h6M438,356v6 M389,57h6M392,54v6
M505,65h6M508,62v6 M505,80h6M508,77v6 M504,85h6M507,82v6 M502,92h6M505,89v6 M492,98h6M495,95v6
M485,115h6M488,112v6 M487,130h6M490,127v6 M504,158h6M507,155v6 M485,160h6M488,157v6
M485,212h6M488,209v6 M500,388h6M503,385v6 M485,57h6M488,54v6 M512,55h6M515,52v6
M540,65h6M543,62v6 M540,72h6M543,69v6 M540,85h6M543,82v6 M540,90h6M543,87v6 M540,110h6M543,107v6
M540,115h6M543,112v6 M540,120h6M543,117v6 M540,128h6M543,125v6 M540,148h6M543,145v6
M540,160h6M543,157v6 M540,197h6M543,194v6 M540,240h6M543,237v6"/>

<!-- contour labels -->
<g clip-path="url(#pc)" font-size="12" text-anchor="middle" fill="#000">
<text x="113" y="52">8</text><text x="130" y="59">8</text><text x="143" y="57">9</text>
<text x="117" y="86">9</text><text x="117" y="94">8</text><text x="95" y="91">0</text>
<text x="114" y="140">6</text><text x="150" y="189">5</text><text x="113" y="349">4</text><text x="322" y="318">4</text>
<text x="295" y="61">18</text><text x="317" y="66">14</text><text x="362" y="56">14</text>
<text x="287" y="100">11</text><text x="301" y="108">10</text><text x="272" y="112">9</text>
<text x="256" y="125">8</text><text x="308" y="137">7</text>
<text x="390" y="76">12</text><text x="427" y="83">11</text><text x="450" y="67">13</text><text x="450" y="77">12</text>
<text x="453" y="96">10</text><text x="446" y="102">9</text><text x="447" y="116">8</text><text x="447" y="130">7</text>
<text x="398" y="151">6</text><text x="435" y="186">5</text><text x="415" y="214">5</text><text x="442" y="357">4</text>
<text x="397" y="45">20</text><text x="414" y="45">18</text><text x="454" y="45">17</text>
<text x="497" y="59">16</text><text x="517" y="59">15</text><text x="513" y="69">14</text><text x="513" y="79">13</text>
<text x="512" y="87">12</text><text x="507" y="96">11</text><text x="495" y="101">10</text><text x="490" y="114">9</text>
<text x="493" y="127">8</text><text x="510" y="154">7</text><text x="490" y="159">6</text><text x="490" y="207">5</text>
<text x="508" y="386">4</text><text x="485" y="57">2</text><text x="522" y="49">7</text>
<text x="549" y="70">2</text><text x="549" y="98">1</text><text x="549" y="124">1</text><text x="549" y="144">9</text>
<text x="549" y="154">8</text><text x="549" y="194">6</text><text x="549" y="237">5</text>
</g>

<!-- Axes frame and ticks -->
<rect x="74" y="36" width="480" height="480" fill="none" stroke="#000" stroke-width="1"/>
<path fill="none" stroke="#000" stroke-width="1" d="
M130,31v5 M178,31v5 M186,31v5 M226,31v5 M258,31v5 M274,31v5 M290,31v5 M322,31v5 M338,31v5 M354,31v5 M370,31v5
M70,36h4 M70,84h4 M70,132h4 M70,180h4 M70,228h4 M70,276h4 M70,324h4 M70,372h4 M70,420h4 M70,468h4 M70,516h4
M226,511v5 M386,511v5 M546,511v5"/>

<g font-size="13.5" text-anchor="end" fill="#000">
<text x="70" y="41">0</text><text x="70" y="89">200</text><text x="70" y="137">400</text>
<text x="70" y="185">600</text><text x="70" y="233">800</text><text x="70" y="281">1000</text>
<text x="70" y="329">1200</text><text x="70" y="377">1400</text><text x="70" y="425">1600</text>
<text x="70" y="473">1800</text><text x="70" y="521">2000</text>
</g>
<g font-size="13.5" text-anchor="middle" fill="#000">
<text x="226" y="532">10</text><text x="386" y="532">20</text><text x="546" y="532">30</text>
</g>
<text x="315" y="547" text-anchor="middle" font-size="15" font-weight="bold">Cycle</text>
<text transform="translate(36,276) rotate(-90)" text-anchor="middle" font-size="15" font-weight="bold">Pressure / Pression (dbar)</text>

<!-- Colorbar -->
<rect x="569" y="36" width="18" height="480" fill="url(#cb)" stroke="#000" stroke-width="1"/>
<path fill="none" stroke="#000" stroke-width="1" d="M587,56h4 M587,100h4 M587,145h4 M587,189h4 M587,234h4 M587,278h4 M587,323h4 M587,367h4 M587,412h4 M587,456h4 M587,500h4"/>
<g font-size="13" fill="#000">
<text x="592" y="61">24</text><text x="592" y="105">22</text><text x="592" y="150">20</text>
<text x="592" y="194">18</text><text x="592" y="239">16</text><text x="592" y="283">14</text>
<text x="592" y="328">12</text><text x="592" y="372">10</text><text x="592" y="417">8</text>
<text x="592" y="461">6</text><text x="592" y="505">4</text>
</g>

<!-- Footer text -->
<text x="78" y="582" font-size="14" font-weight="bold" style="white-space:pre" xml:space="preserve">Float/Profileur dérivant:  4902577</text>
<text x="78" y="601" font-size="14" font-weight="bold" style="white-space:pre" xml:space="preserve">Period/Période:  4/3/2022  to/à  1/24/2023</text>
<text x="78" y="620" font-size="9.5">Tick marks at top indicate stations with delayed mode data</text>
<text x="78" y="640" font-size="9.5">Les traits de l'axe supérieur indiquent les données en mode différé</text>
<text x="583" y="661" font-size="11" text-anchor="end" style="white-space:pre" xml:space="preserve">ISMD | GDSI  02/20/23</text>
</svg>
</body></html>
